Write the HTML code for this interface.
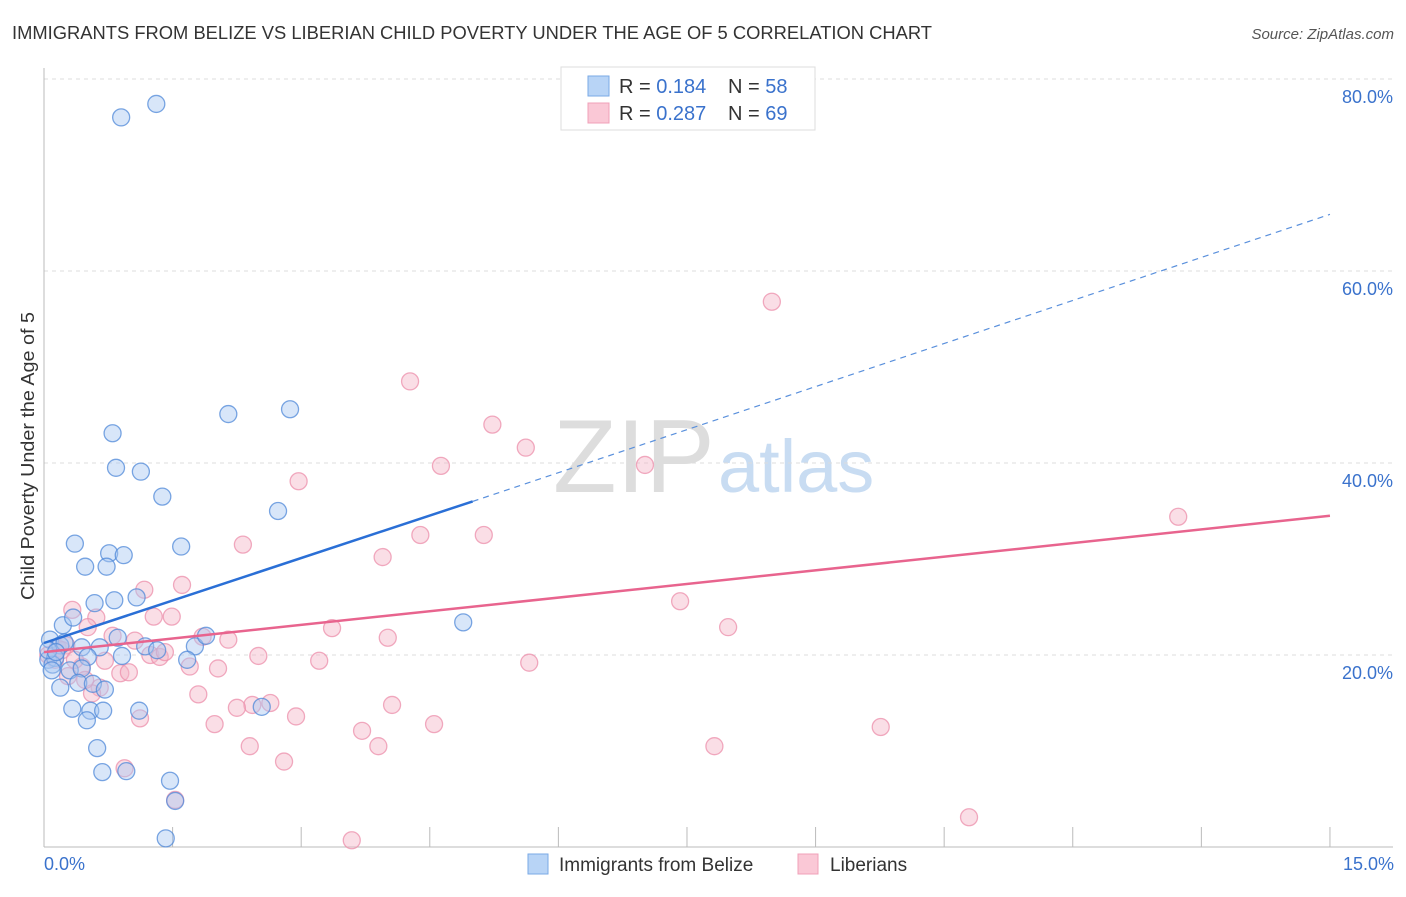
<!DOCTYPE html>
<html><head><meta charset="utf-8"><style>
body{margin:0;background:#fff;font-family:"Liberation Sans",sans-serif;}
svg text{font-family:"Liberation Sans",sans-serif;}
</style></head><body>
<svg id="chart" width="1406" height="892" xmlns="http://www.w3.org/2000/svg">
<text x="12" y="39" font-size="18" fill="#333" textLength="920" lengthAdjust="spacingAndGlyphs">IMMIGRANTS FROM BELIZE VS LIBERIAN CHILD POVERTY UNDER THE AGE OF 5 CORRELATION CHART</text>
<text x="1394" y="39" font-size="15" fill="#555" text-anchor="end" font-style="italic">Source: ZipAtlas.com</text>
<text transform="translate(34,456) rotate(-90)" font-size="18" fill="#333" text-anchor="middle" textLength="288" lengthAdjust="spacingAndGlyphs">Child Poverty Under the Age of 5</text>
<g>
<text x="553" y="492" font-size="104" fill="#ddd" font-family="Liberation Serif, serif">ZIP</text>
<text x="718" y="492" font-size="74" fill="#c8dcf2">atlas</text>
</g>
<g id="grid"></g>
<g id="pts"></g>
<g id="lines"></g>
<g>
<rect x="561" y="67" width="254" height="63" fill="#fff" stroke="#ddd"/>
<rect x="588" y="76" width="21" height="20" fill="#b8d4f6" stroke="#7aaae6"/>
<rect x="588" y="103" width="21" height="20" fill="#fac8d6" stroke="#f0a0b8"/>
<text x="619" y="93" font-size="20" fill="#333">R = <tspan fill="#3a72cc">0.184</tspan></text>
<text x="728" y="93" font-size="20" fill="#333">N = <tspan fill="#3a72cc">58</tspan></text>
<text x="619" y="120" font-size="20" fill="#333">R = <tspan fill="#3a72cc">0.287</tspan></text>
<text x="728" y="120" font-size="20" fill="#333">N = <tspan fill="#3a72cc">69</tspan></text>
</g>
<g>
<rect x="528" y="854" width="20" height="20" fill="#b8d4f6" stroke="#7aaae6"/>
<text x="559" y="871" font-size="19" fill="#333">Immigrants from Belize</text>
<rect x="798" y="854" width="20" height="20" fill="#fac8d6" stroke="#f0a0b8"/>
<text x="830" y="871" font-size="19" fill="#333">Liberians</text>
</g>
<text x="44" y="870" font-size="18" fill="#3a72cc">0.0%</text>
<text x="1394" y="870" font-size="18" fill="#3a72cc" text-anchor="end">15.0%</text>
</svg>
<script>
const belizeX=[0.90,1.31,2.15,2.87,0.80,0.84,1.13,1.38,2.73,0.36,1.60,0.76,0.93,0.48,0.73,0.82,1.08,0.59,4.89,0.22,0.34,0.07,0.19,0.24,0.44,0.65,0.86,1.18,1.32,1.76,1.89,0.05,0.13,0.10,0.51,0.91,1.67,0.09,0.30,0.44,0.19,0.40,0.57,0.71,0.33,0.54,0.69,1.11,2.54,0.50,0.62,0.68,0.96,1.47,1.53,1.42,0.05,0.14];
const belizeY=[76.0,77.4,45.1,45.6,43.1,39.5,39.1,36.5,35.0,31.6,31.3,30.6,30.4,29.2,29.2,25.7,26.0,25.4,23.4,23.1,23.9,21.6,21.0,21.3,20.8,20.8,21.8,20.9,20.5,20.9,22.0,19.5,19.7,19.0,19.8,19.9,19.5,18.4,18.4,18.6,16.6,17.1,17.0,16.4,14.4,14.2,14.2,14.2,14.6,13.2,10.3,7.8,7.9,6.9,4.8,0.9,20.5,20.3];
const liberX=[8.49,4.27,5.23,5.62,4.63,7.01,2.97,4.39,5.13,2.32,3.95,1.17,1.61,13.23,0.33,0.61,1.49,1.28,7.42,0.51,7.98,3.36,0.80,1.06,2.15,1.85,4.01,0.16,0.26,1.24,1.35,1.41,2.50,3.21,5.66,0.71,0.44,1.70,2.03,0.89,0.99,0.28,0.65,0.56,1.80,2.64,2.43,2.25,4.06,2.94,1.12,1.99,4.55,3.71,9.76,2.40,3.90,7.82,0.94,1.53,2.80,3.59,10.79,0.05,0.13,0.21,0.36,0.48];
const liberY=[56.8,48.5,44.0,41.6,39.7,39.8,38.1,32.5,32.5,31.5,30.2,26.8,27.3,34.4,24.7,23.9,24.0,24.0,25.6,22.9,22.9,22.8,22.0,21.5,21.6,21.9,21.8,20.7,21.0,20.0,19.8,20.3,19.9,19.4,19.2,19.4,18.8,18.8,18.6,18.1,18.2,17.8,16.6,16.0,15.9,15.0,14.8,14.5,14.8,13.6,13.4,12.8,12.8,12.1,12.5,10.5,10.5,10.5,8.2,4.9,8.9,0.7,3.1,20.0,19.5,20.5,19.5,17.4];
const yTicks=[20,40,60,80];
const yTickLabels=["20.0%","40.0%","60.0%","80.0%"];
const xTicks=[0,1.5,3,4.5,6,7.5,9,10.5,12,13.5,15];
const belizeTrend=[21.25,36.0,65.9];
const liberTrend=[20.3,34.5];
const NS="http://www.w3.org/2000/svg";
const X=v=>44+v*85.73, Y=v=>847-v*9.6;
function mk(tag,attrs,parent){const e=document.createElementNS(NS,tag);for(const k in attrs)e.setAttribute(k,attrs[k]);parent.appendChild(e);return e;}
const grid=document.getElementById('grid');
yTicks.forEach((t,i)=>{
  const l=mk('line',{x1:44,x2:1393,y1:Y(t),y2:Y(t),stroke:'#ddd','stroke-dasharray':'4,4'},grid);
  
  
  const tx=mk('text',{x:1393,y:Y(t)+24,'font-size':18,fill:'#3a72cc','text-anchor':'end'},grid);
  tx.textContent=yTickLabels[i];
  
  
});
const ax=mk('line',{x1:44,x2:1393,y1:847,y2:847,stroke:'#bbb'},grid);


const ay=mk('line',{x1:44,x2:44,y1:68,y2:847,stroke:'#bbb'},grid);


xTicks.forEach(t=>{
  const l=mk('line',{x1:X(t),x2:X(t),y1:827,y2:847,stroke:'#bbb'},grid);
  
  
});
const pts=document.getElementById('pts');
function series(xs,ys,fill,stroke,name){
  xs.forEach((x,i)=>{
    const c=mk('circle',{cx:X(x),cy:Y(ys[i]),r:8.5,fill:fill,'fill-opacity':0.45,stroke:stroke,'stroke-opacity':0.75,'stroke-width':1.3},pts);
    
    
  });
}
series(liberX,liberY,'#f5b5c8','#ec8fab','liberians-point');
series(belizeX,belizeY,'#a8c8f2','#4f88d8','belize-point');
const lines=document.getElementById('lines');
const b1=mk('line',{x1:X(0),y1:Y(belizeTrend[0]),x2:X(5),y2:Y(belizeTrend[1]),stroke:'#2a6fd6','stroke-width':2.5},lines);


const b2=mk('line',{x1:X(5),y1:Y(belizeTrend[1]),x2:X(15),y2:Y(belizeTrend[2]),stroke:'#5a90dc','stroke-width':1.2,'stroke-dasharray':'6,5'},lines);


const p1=mk('line',{x1:X(0),y1:Y(liberTrend[0]),x2:X(15),y2:Y(liberTrend[1]),stroke:'#e8648e','stroke-width':2.5},lines);


</script>
</body></html>
